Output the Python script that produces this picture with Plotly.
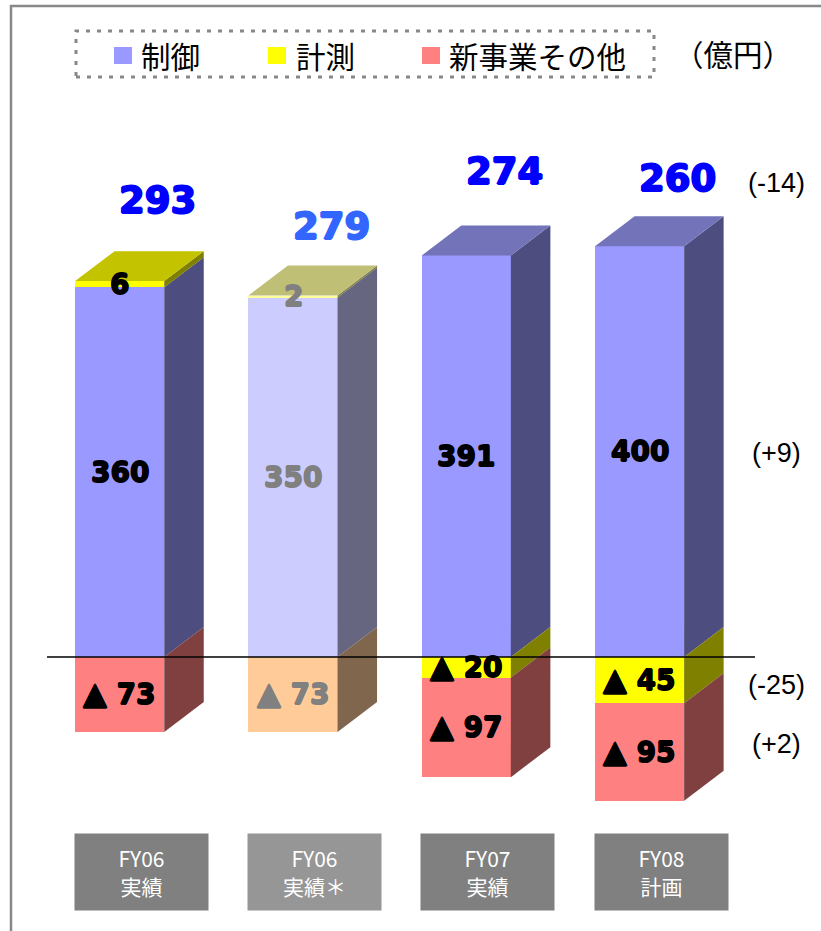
import plotly.graph_objects as go

# ---------------- data ----------------
categories = ["FY06<br>実績", "FY06<br>実績＊", "FY07<br>実績", "FY08<br>計画"]
series_names = ["制御", "計測", "新事業その他"]
control = [360, 350, 391, 400]
measure = [6, 2, -20, -45]
newbiz = [-73, -73, -97, -95]
unit_label = "（億円）"

series_values = [control, measure, newbiz]

# ---------------- styles ----------------
W, H = 821, 931
front_colors = [
    ["#9999FF", "#CCCCFF", "#9999FF", "#9999FF"],
    ["#FFFF00", "#FFFF99", "#FFFF00", "#FFFF00"],
    ["#FF8080", "#FFCC99", "#FF8080", "#FF8080"],
]
side_colors = [
    ["#4D4D80", "#666680", "#4D4D80", "#4D4D80"],
    ["#808000", "#80804C", "#808000", "#808000"],
    ["#804040", "#80664D", "#804040", "#804040"],
]
top_colors = [
    ["#7373BA", "#9999BF", "#7373BA", "#7373BA"],
    ["#C3C300", "#BFBF75", "#C3C300", "#C3C300"],
    ["#BF6060", "#BF9973", "#BF6060", "#BF6060"],
]
legend_colors = ["#9999FF", "#FFFF00", "#FF8080"]
label_colors = ["#000000", "#808080", "#000000", "#000000"]
total_colors = ["#0000FF", "#3366FF", "#0000FF", "#0000FF"]
box_colors = ["#808080", "#969696", "#808080", "#808080"]
total_lift = [51, 39, 54, 38]
diff_shift = [-1, -5, 8]

BAR_W = 0.514      # bar width in category units
DX = 0.228         # depth, x (category units)
DY = 29.2          # depth, y (value units)
PX_PER_CAT = 173.3
CAT0_PX = 119.7
ZERO_PX = 657
PX_PER_VAL = 1.027

NUM_FONT = "DejaVu Sans"
JP_FONT = "Noto Sans CJK JP"

x_range = [-CAT0_PX / PX_PER_CAT, (W - CAT0_PX) / PX_PER_CAT]
y_range = [-(H - ZERO_PX) / PX_PER_VAL, ZERO_PX / PX_PER_VAL]


def px(xp):
    return xp / W


def py(yp):
    return 1 - yp / H


def heavy(c, d=0.7):
    return f"{d}px 0 0 {c}, -{d}px 0 0 {c}, 0 {d}px 0 {c}, 0 -{d}px 0 {c}"


xs = list(range(len(categories)))
fig = go.Figure()

# front faces
for si, name in enumerate(series_names):
    fig.add_trace(go.Bar(
        x=xs, y=series_values[si], name=name, width=BAR_W,
        marker=dict(color=front_colors[si], line=dict(width=0)),
        showlegend=False, hoverinfo="skip"))

annotations = []
totals = []
seg_mid_last = []
for i in xs:
    pos, neg = 0.0, 0.0
    top_series = None
    x1 = i + BAR_W / 2
    x0 = i - BAR_W / 2
    mids = []
    for si in range(len(series_names)):
        v = series_values[si][i]
        if v >= 0:
            lo, hi = pos, pos + v
            pos += v
            top_series = si
        else:
            lo, hi = neg + v, neg
            neg += v
        mids.append((lo + hi) / 2)
        fig.add_trace(go.Scatter(
            x=[x1, x1 + DX, x1 + DX, x1, x1],
            y=[lo, lo + DY, hi + DY, hi, lo],
            fill="toself", fillcolor=side_colors[si][i], mode="lines",
            line=dict(width=0), showlegend=False, hoverinfo="skip"))
        if v >= 0:
            txt = str(v)
            ys = 0
        else:
            txt = "<span style='font-size:31px'>▲</span> " + str(-v)
            ys = 1
        annotations.append(dict(
            x=i, y=(lo + hi) / 2, xref="x", yref="y", text=txt, showarrow=False,
            yshift=ys,
            font=dict(family=NUM_FONT, size=28, color=label_colors[i], weight="bold",
                      shadow=heavy(label_colors[i])),
            xanchor="center", yanchor="middle"))
    if top_series is not None:
        fig.add_trace(go.Scatter(
            x=[x0, x0 + DX, x1 + DX, x1, x0],
            y=[pos, pos + DY, pos + DY, pos, pos],
            fill="toself", fillcolor=top_colors[top_series][i], mode="lines",
            line=dict(width=0), showlegend=False, hoverinfo="skip"))
    total = sum(series_values[si][i] for si in range(len(series_names)))
    totals.append(total)
    seg_mid_last = mids
    annotations.append(dict(
        x=i + 0.22, y=pos + DY, xref="x", yref="y", text=str(total), showarrow=False,
        yshift=total_lift[i],
        font=dict(family=NUM_FONT, size=37, color=total_colors[i], weight="bold",
                  shadow=heavy(total_colors[i], 0.9)),
        xanchor="center", yanchor="middle"))
    annotations.append(dict(
        x=i + 0.125, y=-209, xref="x", yref="y", text=categories[i], showarrow=False,
        width=133, height=76, bgcolor=box_colors[i], borderpad=0,
        font=dict(family=JP_FONT, size=21, color="#FFFFFF"),
        xanchor="center", yanchor="middle", align="center"))

# differences (last vs previous)
last, prev = xs[-1], xs[-2]
diff_total = totals[last] - totals[prev]
last_top = sum(v[last] for v in series_values if v[last] > 0)
annotations.append(dict(
    x=px(776), xref="paper", y=last_top + DY, yref="y", yshift=total_lift[-1] - 5,
    text=f"({diff_total:+d})", showarrow=False,
    font=dict(family="Liberation Sans", size=27, color="#000000"),
    xanchor="center", yanchor="middle"))
for si in range(len(series_names)):
    d = series_values[si][last] - series_values[si][prev]
    annotations.append(dict(
        x=px(776), xref="paper", y=seg_mid_last[si], yref="y", yshift=diff_shift[si],
        text=f"({d:+d})", showarrow=False,
        font=dict(family="Liberation Sans", size=27, color="#000000"),
        xanchor="center", yanchor="middle"))

# legend (custom)
shapes = []
legend_sq_x = [114, 268, 422]
legend_tx_x = [139, 294, 447]
for k, name in enumerate(series_names):
    shapes.append(dict(type="rect", xref="paper", yref="paper",
                       x0=px(legend_sq_x[k]), x1=px(legend_sq_x[k] + 18),
                       y0=py(64), y1=py(47), fillcolor=legend_colors[k],
                       line=dict(width=0), layer="above"))
    annotations.append(dict(
        x=px(legend_tx_x[k]), y=py(55), xref="paper", yref="paper", text=name,
        showarrow=False, xanchor="left", yanchor="middle",
        font=dict(family=JP_FONT, size=29.5, color="#000000")))
annotations.append(dict(
    x=px(733), y=py(53), xref="paper", yref="paper", text=unit_label,
    showarrow=False, xanchor="center", yanchor="middle",
    font=dict(family=JP_FONT, size=29.5, color="#000000")))
shapes.append(dict(type="rect", xref="paper", yref="paper",
                   x0=px(76), x1=px(654), y0=py(77), y1=py(31),
                   line=dict(color="#888888", width=3, dash="4px,7px"), layer="above"))
shapes.append(dict(type="rect", xref="paper", yref="paper",
                   x0=px(11), x1=1.05, y0=-0.05, y1=py(6),
                   line=dict(color="#888888", width=2.5), layer="above"))
shapes.append(dict(type="line", xref="paper", yref="y",
                   x0=px(47), x1=px(755), y0=0, y1=0,
                   line=dict(color="#000000", width=1.6), layer="above"))

fig.update_layout(
    width=W, height=H, barmode="relative", bargap=0,
    margin=dict(l=0, r=0, t=0, b=0, pad=0),
    paper_bgcolor="#FFFFFF", plot_bgcolor="#FFFFFF",
    xaxis=dict(visible=False, range=x_range, fixedrange=True),
    yaxis=dict(visible=False, range=y_range, fixedrange=True),
    showlegend=False, annotations=annotations, shapes=shapes,
)

fig.write_html("out.html", config={"displayModeBar": False},
               post_script="document.body.style.margin='0';document.body.style.overflow='hidden';")
